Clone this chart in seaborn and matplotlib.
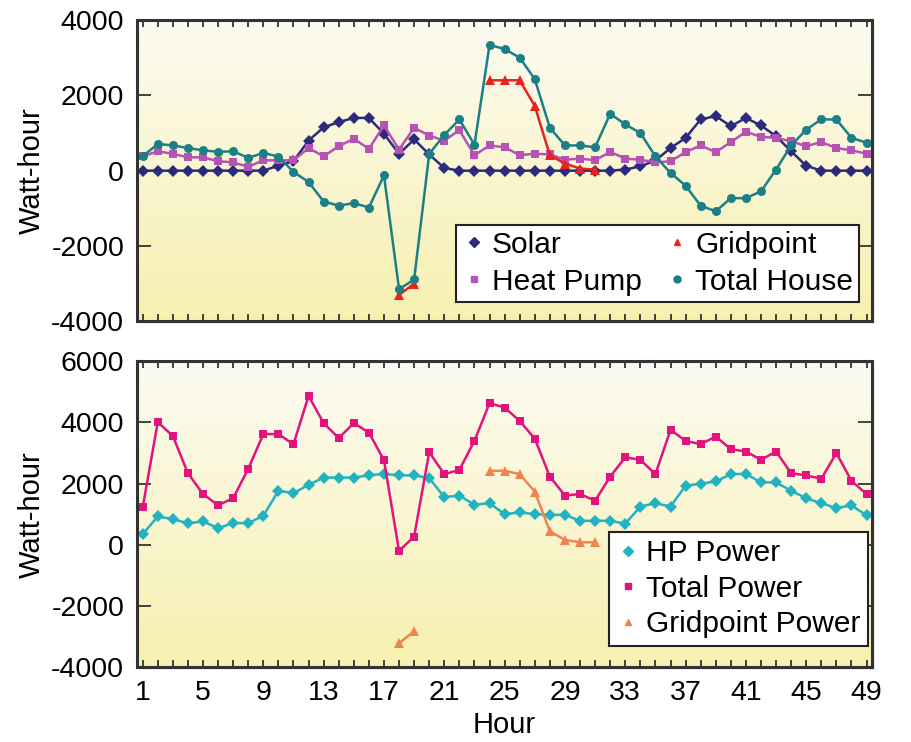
import numpy as np
import pandas as pd
import matplotlib
matplotlib.use('Agg')
import matplotlib.pyplot as plt
from matplotlib.lines import Line2D
from matplotlib.patches import Rectangle
import seaborn as sns

# Data (hours 1..49)
hours = np.arange(1, 50)

solar = [0, 0, 0, 0, 0, 0, 0, 0, 0, 130, 250, 800, 1150, 1290, 1400, 1400, 980,
         445, 830, 430, 70, 0, 0, 0, 0, 0, 0, 0, 0, 0, 0, 0, 30,
         115, 270, 600, 870, 1360, 1450, 1180, 1400, 1200, 915, 515, 130, 0, 0, 0, 0]
heat_pump = [380, 515, 445, 355, 355, 250, 220, 100, 275, 275, 275, 600, 380, 650, 845, 580, 1200,
             560, 1140, 930, 800, 1075, 410, 670, 620, 410, 450, 430, 290, 320, 275, 500, 320,
             290, 220, 250, 490, 670, 490, 760, 1030, 900, 870, 780, 650, 760, 600, 540, 450]
total_house = [380, 710, 670, 600, 540, 500, 515, 340, 470, 375, -35, -300, -820, -930, -860, -980, -125,
               -3150, -2890, 445, 950, 1360, 690, 3340, 3230, 3000, 2430, 1140, 670, 670, 620, 1510, 1230,
               1000, 380, -60, -400, -930, -1080, -730, -730, -550, 30, 670, 1090, 1360, 1360, 870, 740]
gridpoint = [np.nan] * 17 + [-3300, -3000, np.nan, np.nan, np.nan, np.nan,
                             2400, 2400, 2400, 1720, 410, 190, 55, 30] + [np.nan] * 18

hp_power = [350, 925, 840, 700, 765, 545, 710, 710, 950, 1765, 1690, 1960, 2200, 2200, 2200, 2270, 2320,
            2270, 2270, 2180, 1560, 1610, 1310, 1360, 1000, 1060, 1000, 980, 980, 785, 785, 785, 690,
            1250, 1360, 1250, 1930, 2000, 2070, 2310, 2320, 2040, 2040, 1765, 1525, 1360, 1200, 1290, 960]
total_power = [1220, 4010, 3560, 2340, 1660, 1290, 1525, 2485, 3620, 3620, 3290, 4870, 3980, 3490, 3980, 3670, 2770,
               -200, 270, 3030, 2310, 2450, 3400, 4630, 4490, 4050, 3470, 2230, 1610, 1660, 1440, 2230, 2860,
               2780, 2310, 3760, 3400, 3290, 3540, 3130, 3050, 2780, 3050, 2340, 2270, 2160, 3000, 2090, 1660]
gridpoint_power = [np.nan] * 17 + [-3220, -2830, np.nan, np.nan, np.nan, np.nan,
                                   2420, 2420, 2310, 1740, 440, 160, 80, 80] + [np.nan] * 18

top_series = [
    ('Solar', solar, '#2B2A7C', 'D', 6.5),
    ('Heat Pump', heat_pump, '#B552B4', 's', 6),
    ('Gridpoint', gridpoint, '#E8221E', '^', 7),
    ('Total House', total_house, '#1A7F86', 'o', 6.5),
]
bottom_series = [
    ('HP Power', hp_power, '#22B3C2', 'D', 6.5),
    ('Total Power', total_power, '#E2137F', 's', 6),
    ('Gridpoint Power', gridpoint_power, '#F0844F', '^', 7),
]

sns.set_style('ticks')
plt.rcParams['font.family'] = ['Liberation Sans', 'DejaVu Sans']
plt.rcParams['axes.unicode_minus'] = False
plt.rcParams['text.color'] = 'black'
plt.rcParams['axes.labelcolor'] = 'black'
plt.rcParams['xtick.labelcolor'] = 'black'
plt.rcParams['ytick.labelcolor'] = 'black'

fig = plt.figure(figsize=(9.11, 7.42), dpi=100)
ax_top = fig.add_axes([0.150, 0.567, 0.807, 0.406])
ax_bot = fig.add_axes([0.150, 0.101, 0.807, 0.412])


def draw_series(ax, name, vals, color, marker, ms):
    # split into runs without gaps so the line breaks where data is missing
    df = pd.DataFrame({'Hour': hours, 'Wh': vals})
    df['run'] = df['Wh'].isna().cumsum()
    df = df.dropna()
    for _, part in df.groupby('run'):
        sns.lineplot(data=part, x='Hour', y='Wh', ax=ax, color=color, marker=marker,
                     markersize=ms, markeredgewidth=0, linewidth=1.8, zorder=3)


def style_axes(ax, ylim, yticks):
    grad = np.linspace(0, 1, 256).reshape(-1, 1)
    cmap = matplotlib.colors.LinearSegmentedColormap.from_list('bg', ['#F7F0B0', '#FCFBF2'])
    ax.imshow(grad, extent=(0, 1, 0, 1), transform=ax.transAxes, origin='lower',
              aspect='auto', cmap=cmap, zorder=0)
    ax.set_xlim(0.6, 49.35)
    ax.set_ylim(*ylim)
    ax.set_yticks(yticks)
    ax.set_xticks(range(1, 50, 4))
    ax.set_xticks(range(1, 50), minor=True)
    ax.tick_params(axis='x', which='both', direction='in', top=True, length=5,
                   width=1.3, color='#333333', labelsize=20.5, pad=9)
    ax.tick_params(axis='y', direction='in', right=True, length=10, width=1.3,
                   color='#333333', labelsize=20.5, pad=9)
    ax.set_ylabel('Watt-hour', fontsize=21, labelpad=4)
    for sp in ax.spines.values():
        sp.set_linewidth(2.2)
        sp.set_color('#333333')
        sp.set_zorder(5)
    # soft drop shadow behind the frame
    pos = ax.get_position()
    for i, a in enumerate([0.10, 0.16, 0.25]):
        off = (3 - i) / 911
        fig.patches.append(Rectangle((pos.x0 + off, pos.y0 - off * 911 / 742), pos.width, pos.height,
                                     transform=fig.transFigure, facecolor='gray', alpha=a,
                                     edgecolor='none', zorder=-1))


for name, vals, color, marker, ms in top_series:
    draw_series(ax_top, name, vals, color, marker, ms)
for name, vals, color, marker, ms in bottom_series:
    draw_series(ax_bot, name, vals, color, marker, ms)

style_axes(ax_top, (-4000, 4000), [-4000, -2000, 0, 2000, 4000])
style_axes(ax_bot, (-4000, 6000), [-4000, -2000, 0, 2000, 4000, 6000])
ax_top.set_xlabel('')
ax_top.tick_params(axis='x', labelbottom=False)
ax_bot.set_xlabel('Hour', fontsize=21, labelpad=4)

top_handles = [Line2D([], [], linestyle='none', marker=m, color=c, markersize=5) for _, _, c, m, _ in top_series]
top_labels = [n for n, _, _, _, _ in top_series]
# column 1 = Solar, Heat Pump; column 2 = Gridpoint, Total House
leg1 = ax_top.legend(top_handles, top_labels, ncol=2, loc='lower right', bbox_to_anchor=(0.983, 0.065),
                     fontsize=21.5, frameon=True, fancybox=False, framealpha=1, edgecolor='#222222',
                     handletextpad=0.2, handlelength=0.8, columnspacing=0.8, borderpad=0.2,
                     labelspacing=0.3, borderaxespad=0)
leg1.get_frame().set_linewidth(1.5)
leg1.set_zorder(6)

bot_handles = [Line2D([], [], linestyle='none', marker=m, color=c, markersize=5) for _, _, c, m, _ in bottom_series]
bot_labels = [n for n, _, _, _, _ in bottom_series]
leg2 = ax_bot.legend(bot_handles, bot_labels, loc='lower right', bbox_to_anchor=(0.995, 0.07),
                     fontsize=21.5, frameon=True, fancybox=False, framealpha=1, edgecolor='#222222',
                     handletextpad=0.2, handlelength=0.8, borderpad=0.25, labelspacing=0.25,
                     borderaxespad=0)
leg2.get_frame().set_linewidth(1.5)
leg2.set_zorder(6)

fig.savefig('out.png', dpi=100)
